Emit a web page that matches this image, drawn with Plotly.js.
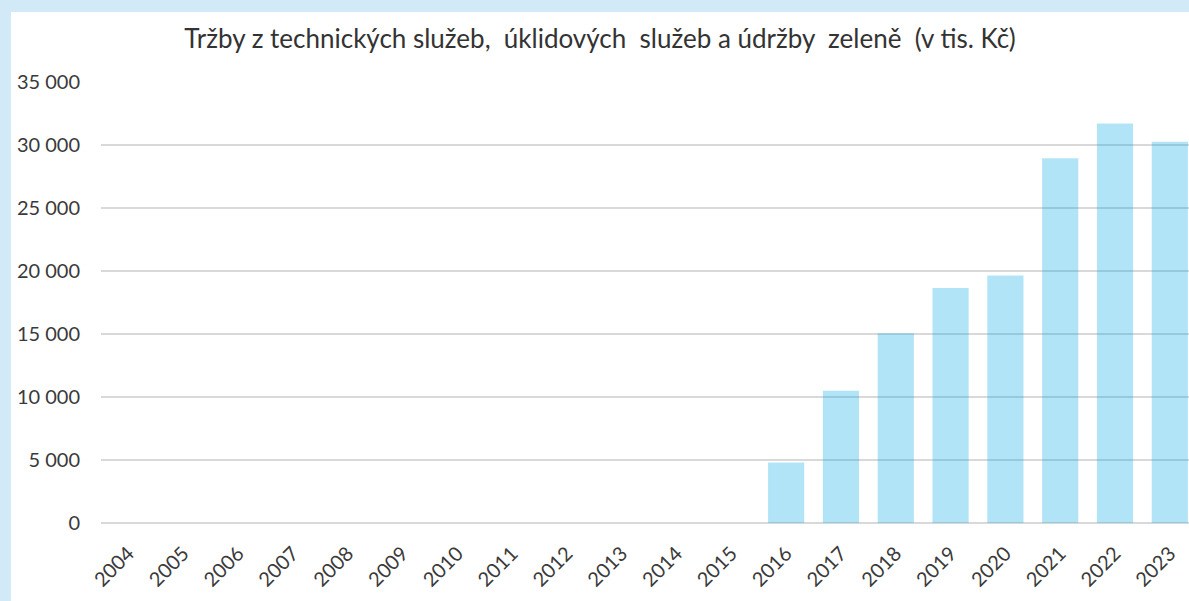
<!DOCTYPE html>
<html>
<head>
<meta charset="utf-8">
<script src="https://cdn.plot.ly/plotly-3.0.1.min.js"></script>
<style>
  html, body { margin: 0; padding: 0; background: #d2e9f7; width: 1189px; height: 601px; overflow: hidden; }
  #chart { position: absolute; left: 11px; top: 12px; width: 1178px; height: 589px; background: #ffffff; }
</style>
</head>
<body>
<div id="chart"></div>
<script>
const years = ['2004','2005','2006','2007','2008','2009','2010','2011','2012','2013','2014','2015','2016','2017','2018','2019','2020','2021','2022','2023'];
const revenue = [0,0,0,0,0,0,0,0,0,0,0,0,4800,10500,15050,18650,19650,28950,31700,30250];
const yTicks = [0,5000,10000,15000,20000,25000,30000,35000];
const yTickLabels = ['0','5 000','10 000','15 000','20 000','25 000','30 000','35 000'];
const titleText = 'Tržby z technických služeb,\u00a0 úklidových\u00a0 služeb a údržby\u00a0 zeleně\u00a0 (v tis. Kč)';

const font = 'Lato, "Open Sans", sans-serif';

Plotly.newPlot('chart', [{
  type: 'bar',
  x: years,
  y: revenue,
  marker: { color: 'rgba(0,165,230,0.3)', line: { width: 0 } },
  hoverinfo: 'x+y'
}], {
  width: 1178,
  height: 589,
  paper_bgcolor: '#ffffff',
  plot_bgcolor: '#ffffff',
  margin: { l: 90, r: 0, t: 70, b: 78 },
  bargap: 0.34,
  showlegend: false,
  title: {
    text: titleText,
    font: { family: font, size: 26, color: '#333333' },
    x: 0.5, xref: 'container', xanchor: 'center',
    y: 1 - 27/589, yref: 'container', yanchor: 'middle'
  },
  xaxis: {
    type: 'category',
    range: [-0.5, 19.35],
    tickangle: -45,
    tickfont: { family: font, size: 20, color: '#3a3a3a' },
    ticks: '',
    showgrid: false,
    showline: false,
    zeroline: false,
    ticklabelstandoff: 14,
    fixedrange: true
  },
  yaxis: {
    range: [0, 35000],
    tickvals: yTicks,
    ticktext: yTickLabels,
    tickfont: { family: font, size: 20, color: '#3a3a3a' },
    showgrid: true,
    gridcolor: '#d9d9d9',
    gridwidth: 1.5,
    zeroline: true,
    zerolinecolor: '#d9d9d9',
    zerolinewidth: 1.5,
    showline: false,
    ticks: '',
    ticklabelstandoff: 20,
    fixedrange: true
  }
}, { displayModeBar: false, staticPlot: true });
</script>
</body>
</html>
